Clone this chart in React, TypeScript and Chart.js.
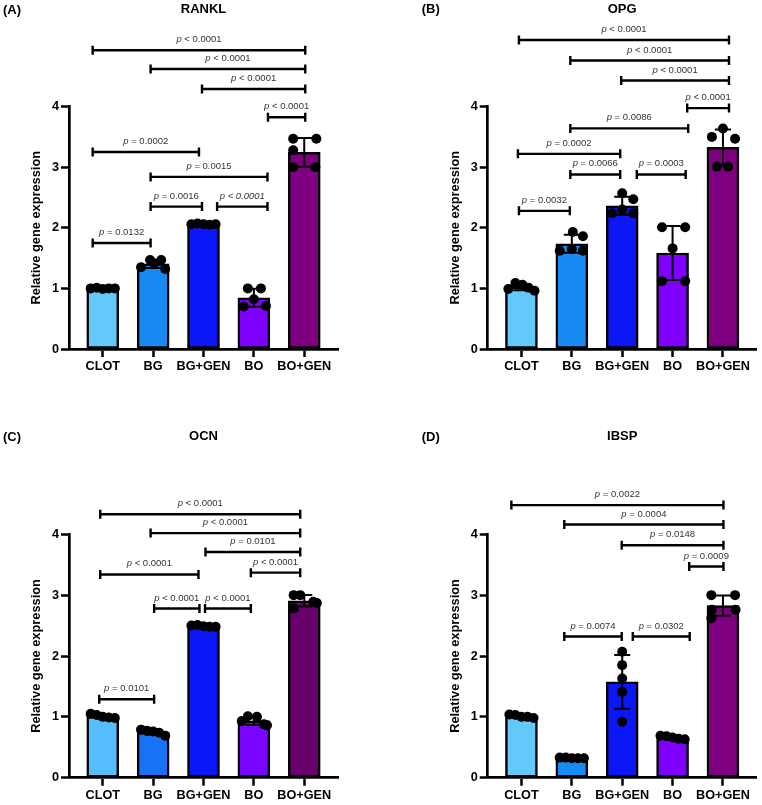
import React, { useEffect, useRef } from "react";
import { Chart, registerables } from "chart.js";

Chart.register(...registerables);

const FONT = "'Liberation Sans', Arial, Helvetica, sans-serif";

const categories = ["CLOT", "BG", "BG+GEN", "BO", "BO+GEN"];
const yTicks = [0, 1, 2, 3, 4];

// ---- RANKL: five replicates per group ----
const ranklValues = [
  [1.0, 1.01, 0.99, 1.0, 1.0],
  [1.35, 1.47, 1.41, 1.47, 1.32],
  [2.06, 2.07, 2.06, 2.05, 2.06],
  [0.7, 1.0, 0.82, 1.0, 0.71],
  [3.47, 3.47, 3.28, 3.0, 3.0],
];
const ranklDotShift = [
  [-0.24, -0.12, 0, 0.12, 0.24],
  [-0.24, -0.06, 0.02, 0.16, 0.24],
  [-0.24, -0.12, 0, 0.12, 0.24],
  [-0.2, -0.12, 0, 0.14, 0.24],
  [-0.22, 0.24, -0.22, -0.22, 0.22],
];
const ranklBrackets = [
  { from: -0.2, to: 4.02, y: 4.93, label: "p < 0.0001" },
  { from: 0.95, to: 4.02, y: 4.62, label: "p < 0.0001" },
  { from: 1.97, to: 4.02, y: 4.29, label: "p < 0.0001" },
  { from: 3.28, to: 4.02, y: 3.825, label: "p < 0.0001" },
  { from: -0.2, to: 1.91, y: 3.25, label: "p = 0.0002" },
  { from: 0.95, to: 3.27, y: 2.84, label: "p = 0.0015" },
  { from: 0.95, to: 1.97, y: 2.35, label: "p = 0.0016" },
  { from: 2.27, to: 3.27, y: 2.35, label: "p < 0.0001", italic: true },
  { from: -0.2, to: 0.95, y: 1.75, label: "p = 0.0132" },
];

// ---- OPG ----
const opgValues = [
  [0.99, 1.09, 1.06, 1.01, 0.96],
  [1.93, 1.86, 1.62, 1.62, 1.65],
  [2.57, 2.47, 2.24, 2.24, 2.3],
  [2.01, 2.01, 1.66, 1.12, 1.12],
  [3.64, 3.5, 3.47, 3.01, 3.01],
];
const opgDotShift = [
  [-0.26, -0.12, 0.02, 0.14, 0.26],
  [0.02, 0.22, -0.24, 0.22, 0],
  [0, 0.22, -0.2, 0.22, 0],
  [-0.21, 0.25, 0, -0.21, 0.25],
  [0, -0.22, 0.24, -0.12, 0.1],
];
const opgBrackets = [
  { from: -0.05, to: 4.12, y: 5.1, label: "p < 0.0001" },
  { from: 0.97, to: 4.12, y: 4.76, label: "p < 0.0001" },
  { from: 1.98, to: 4.12, y: 4.43, label: "p < 0.0001" },
  { from: 3.29, to: 4.12, y: 3.975, label: "p < 0.0001" },
  { from: 0.97, to: 3.31, y: 3.64, label: "p = 0.0086" },
  { from: -0.07, to: 1.96, y: 3.22, label: "p = 0.0002" },
  { from: 0.97, to: 1.96, y: 2.88, label: "p = 0.0066" },
  { from: 2.29, to: 3.26, y: 2.88, label: "p = 0.0003" },
  { from: -0.05, to: 0.96, y: 2.28, label: "p = 0.0032" },
];

// ---- OCN ----
const ocnValues = [
  [1.05, 1.03, 1.0, 0.99, 0.98],
  [0.79, 0.77, 0.76, 0.74, 0.69],
  [2.5, 2.51, 2.49, 2.48, 2.48],
  [0.93, 1.01, 1.0, 0.88, 0.86],
  [3.0, 3.0, 2.89, 2.87, 2.78],
];
const ocnDotShift = [
  [-0.24, -0.12, 0, 0.12, 0.24],
  [-0.24, -0.12, 0, 0.12, 0.24],
  [-0.24, -0.12, 0, 0.12, 0.24],
  [-0.24, -0.12, 0.06, 0.2, 0.26],
  [-0.21, -0.08, 0.18, 0.25, -0.21],
];
const ocnBrackets = [
  { from: -0.05, to: 3.92, y: 4.33, label: "p < 0.0001" },
  { from: 0.95, to: 3.92, y: 4.02, label: "p < 0.0001" },
  { from: 2.04, to: 3.92, y: 3.71, label: "p = 0.0101" },
  { from: -0.05, to: 1.9, y: 3.34, label: "p < 0.0001" },
  { from: 2.94, to: 3.92, y: 3.37, label: "p < 0.0001" },
  { from: 1.02, to: 1.92, y: 2.78, label: "p < 0.0001" },
  { from: 2.03, to: 2.94, y: 2.78, label: "p < 0.0001" },
  { from: -0.07, to: 1.02, y: 1.29, label: "p = 0.0101" },
];

// ---- IBSP ----
const ibspValues = [
  [1.04, 1.03, 1.0, 1.0, 0.98],
  [0.33, 0.33, 0.32, 0.32, 0.32],
  [2.07, 1.85, 1.63, 1.41, 0.92],
  [0.69, 0.68, 0.66, 0.64, 0.63],
  [3.0, 3.0, 2.76, 2.76, 2.62],
];
const ibspDotShift = [
  [-0.24, -0.12, 0, 0.12, 0.24],
  [-0.24, -0.12, 0, 0.12, 0.24],
  [0, 0, 0, 0, 0],
  [-0.24, -0.12, 0, 0.12, 0.24],
  [-0.23, 0.24, -0.22, 0.25, -0.23],
];
const ibspBrackets = [
  { from: -0.2, to: 4.01, y: 4.48, label: "p = 0.0022" },
  { from: 0.85, to: 4.01, y: 4.16, label: "p = 0.0004" },
  { from: 1.99, to: 4.01, y: 3.82, label: "p = 0.0148" },
  { from: 3.33, to: 4.01, y: 3.47, label: "p = 0.0009" },
  { from: 0.85, to: 1.99, y: 2.32, label: "p = 0.0074" },
  { from: 2.21, to: 3.34, y: 2.32, label: "p = 0.0302" },
];

const paletteMain = ["#63C9FA", "#188AF3", "#0B17F6", "#7F00FF", "#7E0080"];
const paletteOCN = ["#56BEFC", "#1872F6", "#0B17F6", "#7A05FF", "#69006B"];

type Bracket = { from: number; to: number; y: number; label: string; italic?: boolean };

type PanelCfg = {
  letter: string;
  title: string;
  values: number[][];
  shift: number[][];
  brackets: Bracket[];
  colors: string[];
  left: number;
  top: number;
  w: number;
  h: number;
  pad: { left: number; right: number; top: number; bottom: number };
  titleY: number;
};

const panels: PanelCfg[] = [
  {
    letter: "(A)", title: "RANKL", values: ranklValues, shift: ranklDotShift, brackets: ranklBrackets,
    colors: paletteMain, left: 0, top: 0, w: 381, h: 400,
    pad: { left: 0, right: 43, top: 106.6, bottom: 25 }, titleY: 9.5,
  },
  {
    letter: "(B)", title: "OPG", values: opgValues, shift: opgDotShift, brackets: opgBrackets,
    colors: paletteMain, left: 381, top: 0, w: 381, h: 400,
    pad: { left: 37.7, right: 5.3, top: 106.6, bottom: 25 }, titleY: 9,
  },
  {
    letter: "(C)", title: "OCN", values: ocnValues, shift: ocnDotShift, brackets: ocnBrackets,
    colors: paletteOCN, left: 0, top: 400, w: 381, h: 405,
    pad: { left: 0, right: 43, top: 134.3, bottom: 1.3 }, titleY: 36.5,
  },
  {
    letter: "(D)", title: "IBSP", values: ibspValues, shift: ibspDotShift, brackets: ibspBrackets,
    colors: paletteMain, left: 381, top: 400, w: 381, h: 405,
    pad: { left: 37.7, right: 5.3, top: 134.3, bottom: 1.3 }, titleY: 36.5,
  },
];

function Panel({ cfg }: { cfg: PanelCfg }) {
  const ref = useRef<HTMLCanvasElement>(null);

  useEffect(() => {
    if (!ref.current) return;
    const means = cfg.values.map((g) => g.reduce((a, b) => a + b, 0) / g.length);
    const sds = cfg.values.map((g, i) =>
      Math.sqrt(g.reduce((a, b) => a + (b - means[i]) ** 2, 0) / (g.length - 1))
    );
    const dots = cfg.values.flatMap((g, i) => g.map((v, j) => ({ x: i + cfg.shift[i][j], y: v })));

    const annotate = {
      id: "annotate",
      afterDatasetDraw(chart: any, args: any) {
        if (args.index !== 0) return;
        const { ctx } = chart;
        const xs = chart.scales.x;
        const ys = chart.scales.y;
        ctx.save();
        ctx.strokeStyle = "#000";
        ctx.lineWidth = 2;
        means.forEach((m, i) => {
          const cx = xs.getPixelForValue(i);
          const hi = ys.getPixelForValue(m + sds[i]);
          const lo = ys.getPixelForValue(m - sds[i]);
          ctx.beginPath();
          ctx.moveTo(cx, hi);
          ctx.lineTo(cx, lo);
          ctx.moveTo(cx - 8, hi);
          ctx.lineTo(cx + 8, hi);
          ctx.moveTo(cx - 8, lo);
          ctx.lineTo(cx + 8, lo);
          ctx.stroke();
        });
        ctx.restore();
      },
      afterDraw(chart: any) {
        const { ctx, chartArea } = chart;
        const xs = chart.scales.x;
        const ys = chart.scales.y;
        ctx.save();
        // significance brackets
        cfg.brackets.forEach((b) => {
          const x1 = xs.getPixelForValue(b.from);
          const x2 = xs.getPixelForValue(b.to);
          const y = ys.getPixelForValue(b.y);
          ctx.strokeStyle = "#000";
          ctx.lineWidth = 2.4;
          ctx.beginPath();
          ctx.moveTo(x1, y);
          ctx.lineTo(x2, y);
          ctx.moveTo(x1, y - 4.5);
          ctx.lineTo(x1, y + 4.5);
          ctx.moveTo(x2, y - 4.5);
          ctx.lineTo(x2, y + 4.5);
          ctx.stroke();

          const head = b.label.slice(0, 1);
          const rest = b.label.slice(1);
          const fItal = `italic 9.5px ${FONT}`;
          const fRest = b.italic ? fItal : `9.5px ${FONT}`;
          ctx.font = fItal;
          const w1 = ctx.measureText(head).width;
          ctx.font = fRest;
          const w2 = ctx.measureText(rest).width;
          const sx = (x1 + x2) / 2 - (w1 + w2) / 2;
          ctx.fillStyle = "#333";
          ctx.textBaseline = "alphabetic";
          ctx.textAlign = "left";
          ctx.font = fItal;
          ctx.fillText(head, sx, y - 8);
          ctx.font = fRest;
          ctx.fillText(rest, sx + w1, y - 8);
        });
        // panel letter and gene title
        ctx.fillStyle = "#000";
        ctx.textBaseline = "middle";
        ctx.font = `bold 13px ${FONT}`;
        ctx.textAlign = "left";
        ctx.fillText(cfg.letter, chartArea.left - 66, cfg.titleY + 0.5);
        ctx.textAlign = "center";
        ctx.fillText(cfg.title, (chartArea.left + chartArea.right) / 2, cfg.titleY);
        ctx.restore();
      },
    };

    const tickFont = { family: FONT, size: 12.7, weight: "bold" as const };

    const chart = new Chart(ref.current, {
      type: "bar",
      data: {
        datasets: [
          {
            type: "bar",
            data: means.map((m, i) => ({ x: i, y: m })),
            backgroundColor: cfg.colors,
            borderColor: "#000",
            borderWidth: 2.5,
            borderSkipped: false,
            barThickness: 32,
            order: 2,
          } as any,
          {
            type: "scatter",
            data: dots,
            pointRadius: 5,
            pointBackgroundColor: "#000",
            pointBorderWidth: 0,
            showLine: false,
            order: 1,
          } as any,
        ],
      },
      options: {
        responsive: false,
        maintainAspectRatio: false,
        animation: false,
        events: [],
        layout: { padding: cfg.pad },
        plugins: { legend: { display: false }, tooltip: { enabled: false } },
        scales: {
          x: {
            type: "linear",
            min: -0.67,
            max: 4.67,
            offset: false,
            afterFit: (s: any) => {
              s.height = 26;
            },
            afterBuildTicks: (s: any) => {
              s.ticks = categories.map((_, i) => ({ value: i }));
            },
            ticks: {
              callback: (v: any) => categories[v as number] ?? "",
              font: tickFont,
              color: "#000",
              padding: 2,
              autoSkip: false,
              maxRotation: 0,
            },
            grid: {
              offset: false,
              drawOnChartArea: false,
              drawTicks: true,
              tickLength: 8,
              tickWidth: 2.5,
              tickColor: "#000",
            },
            border: { display: true, width: 2.7, color: "#000" },
          },
          y: {
            min: 0,
            max: 4,
            afterFit: (s: any) => {
              s.width = 69;
            },
            afterBuildTicks: (s: any) => {
              s.ticks = yTicks.map((v) => ({ value: v }));
            },
            ticks: { font: tickFont, color: "#000", padding: 2 },
            grid: {
              drawOnChartArea: false,
              drawTicks: true,
              tickLength: 8,
              tickWidth: 2.5,
              tickColor: "#000",
            },
            border: { display: true, width: 2.7, color: "#000" },
            title: {
              display: true,
              text: "Relative gene expression",
              color: "#000",
              font: { family: FONT, size: 12.8, weight: "bold" },
              padding: { top: 29, bottom: 0 },
            },
          },
        },
      } as any,
      plugins: [annotate],
    });
    return () => chart.destroy();
  }, [cfg]);

  return (
    <canvas
      ref={ref}
      width={cfg.w}
      height={cfg.h}
      style={{ position: "absolute", left: cfg.left, top: cfg.top, width: cfg.w, height: cfg.h, display: "block" }}
    />
  );
}

export default function App() {
  return (
    <div style={{ position: "absolute", left: 0, top: 0, width: 762, height: 805, background: "#fff", overflow: "hidden" }}>
      {panels.map((p) => (
        <Panel key={p.title} cfg={p} />
      ))}
    </div>
  );
}
